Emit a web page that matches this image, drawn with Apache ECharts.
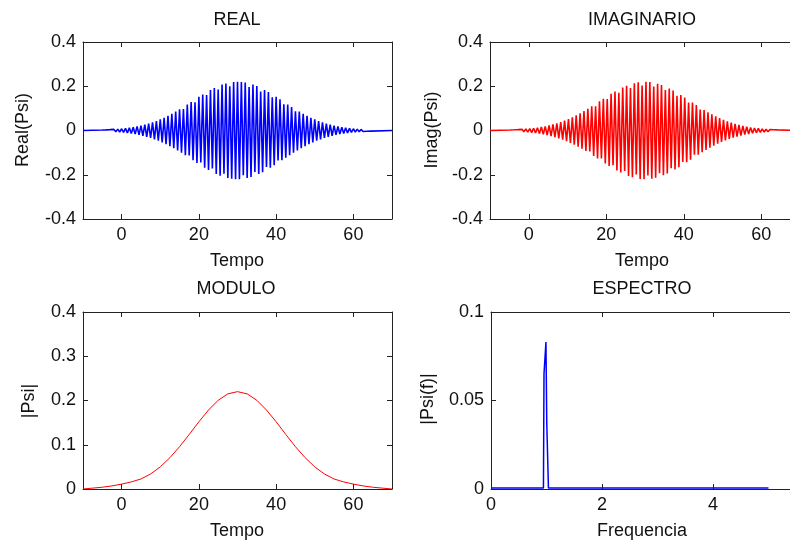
<!DOCTYPE html>
<html><head><meta charset="utf-8">
<script src="https://cdn.jsdelivr.net/npm/echarts@6/dist/echarts.min.js"></script>
<style>html,body{margin:0;padding:0;background:#fff}#c{width:790px;height:545px}</style>
</head><body><div id="c"></div><script>
// ---- data ----
const realStart = -5, imagStart = -4.75, sampleStep = 0.5;
const realVals = [
 0.0023,-0.0027,0.0030,-0.0034,0.0039,-0.0044,0.0050,-0.0056,0.0063,-0.0070,
 0.0079,-0.0088,0.0098,-0.0109,0.0120,-0.0134,0.0148,-0.0163,0.0180,-0.0198,
 0.0217,-0.0238,0.0261,-0.0285,0.0310,-0.0338,0.0367,-0.0398,0.0430,-0.0464,
 0.0500,-0.0538,0.0578,-0.0619,0.0663,-0.0708,0.0754,-0.0802,0.0853,-0.0904,
 0.0956,-0.1009,0.0970,-0.1120,0.1176,-0.1130,0.1291,-0.1348,0.1280,-0.1463,
 0.1519,-0.1450,0.1630,-0.1684,0.1600,-0.1786,0.1835,-0.1720,0.1925,-0.1967,
 0.1850,-0.2041,0.2073,-0.1950,0.2128,-0.2150,0.2000,-0.2182,0.2192,-0.2198,
 0.2200,-0.2198,0.2192,-0.2020,0.2168,-0.2150,0.1960,-0.2102,0.2073,-0.1880,
 0.2005,-0.1967,0.1760,-0.1882,0.1835,-0.1650,0.1735,-0.1684,0.1500,-0.1575,
 0.1519,-0.1350,0.1406,-0.1348,0.1180,-0.1233,0.1176,-0.1120,0.1064,-0.1009,
 0.0870,-0.0904,0.0853,-0.0802,0.0754,-0.0708,0.0663,-0.0619,0.0578,-0.0538,
 0.0500,-0.0464,0.0430,-0.0398,0.0367,-0.0338,0.0310,-0.0285,0.0261,-0.0238,
 0.0217,-0.0198,0.0180,-0.0163,0.0148,-0.0134,0.0120,-0.0109,0.0098,-0.0088,
 0.0079,-0.0070,0.0063,-0.0056,0.0050,-0.0044,0.0039,-0.0034,0.0030,-0.0027,
 0.0023
];
const imagVals = [
 0.0025,-0.0029,0.0032,-0.0037,0.0041,-0.0047,0.0053,-0.0059,0.0066,-0.0074,
 0.0083,-0.0093,0.0103,-0.0114,0.0127,-0.0141,0.0155,-0.0171,0.0189,-0.0207,
 0.0227,-0.0249,0.0273,-0.0297,0.0324,-0.0352,0.0382,-0.0414,0.0447,-0.0482,
 0.0519,-0.0558,0.0598,-0.0641,0.0685,-0.0731,0.0778,-0.0827,0.0878,-0.0930,
 0.0982,-0.0950,0.1092,-0.1148,0.1100,-0.1262,0.1320,-0.1260,0.1434,-0.1491,
 0.1420,-0.1602,0.1657,-0.1570,0.1760,-0.1810,0.1700,-0.1903,0.1946,-0.1830,
 0.2023,-0.2057,0.1920,-0.2115,0.2139,-0.1990,0.2175,-0.2187,0.2030,-0.2199,
 0.2199,-0.2030,0.2187,-0.2175,0.1990,-0.2139,0.2115,-0.1930,0.2057,-0.2023,
 0.1830,-0.1946,0.1903,-0.1710,0.1810,-0.1760,0.1570,-0.1657,0.1602,-0.1420,
 0.1491,-0.1434,0.1260,-0.1320,0.1262,-0.1100,0.1148,-0.1092,0.0950,-0.0982,
 0.0930,-0.0878,0.0827,-0.0778,0.0731,-0.0685,0.0641,-0.0598,0.0558,-0.0519,
 0.0482,-0.0447,0.0414,-0.0382,0.0352,-0.0324,0.0297,-0.0273,0.0249,-0.0227,
 0.0207,-0.0189,0.0171,-0.0155,0.0141,-0.0127,0.0114,-0.0103,0.0093,-0.0083,
 0.0074,-0.0066,0.0059,-0.0053,0.0047,-0.0041,0.0037,-0.0032,0.0029,-0.0025
];
const edgeT = [-10, 70];           // flat (zero) ends of the time signals
const modT = [-10,-5,-2.5,0,2.5,5,7.5,10,12.5,15,17.5,20,22.5,25,27.5,30,32.5,35,37.5,40,42.5,45,47.5,50,52.5,55,57.5,60,62.5,65,70];
const modV = [0,0.004,0.007,0.011,0.016,0.0226,0.034,0.050,0.0708,0.0956,0.1233,0.1519,0.1786,0.2005,0.2150,0.2200,0.2150,0.2005,0.1786,0.1519,0.1233,0.0956,0.0708,0.050,0.034,0.0226,0.016,0.011,0.007,0.004,0];
const specF = [0, 0.945, 0.955, 0.97, 0.99, 1.005, 1.025, 1.035, 5];
const specV = [0.0006, 0.0006, 0.065, 0.065, 0.083, 0.037, 0.037, 0.0006, 0.0006];
const timeTicks = [0, 20, 40, 60];
const freqTicks = [0, 2, 4, 6];

// ---- build ----
const FONT = 'Liberation Sans, Arial, sans-serif';
const INK = '#111';
function samples(start, vals) {
  const out = [[edgeT[0], 0]];
  vals.forEach((v, i) => out.push([start + i * sampleStep, v]));
  out.push([edgeT[1], 0]);
  return out;
}
const pairs = (xs, ys) => xs.map((x, i) => [x, ys[i]]);

const grids = [
  {left: 83, top: 42, width: 309, height: 177},
  {left: 490, top: 42, width: 310, height: 177},
  {left: 83, top: 312, width: 309, height: 177},
  {left: 491, top: 312, width: 333, height: 177}
].map(g => Object.assign(g, {outerBoundsMode: 'none', containLabel: false}));
const xSpec = [
  {min: -10, max: 70, ticks: timeTicks},
  {min: -10, max: 70, ticks: timeTicks},
  {min: -10, max: 70, ticks: timeTicks},
  {min: 0, max: 6, ticks: freqTicks}
];
const ySpec = [
  {min: -0.4, max: 0.4, interval: 0.2},
  {min: -0.4, max: 0.4, interval: 0.2},
  {min: 0, max: 0.4, interval: 0.1},
  {min: 0, max: 0.1, interval: 0.05}
];
const lineAx = {show: true, onZero: false, lineStyle: {color: '#222', width: 1}};
const tickAx = (vals) => ({show: true, inside: true, length: 5, lineStyle: {color: '#222', width: 1}, customValues: vals});
const xAxis = [], yAxis = [];
xSpec.forEach((s, i) => {
  xAxis.push({type: 'value', gridIndex: i, min: s.min, max: s.max, position: 'bottom',
    axisLine: lineAx, axisTick: tickAx(s.ticks), splitLine: {show: false},
    axisLabel: {customValues: s.ticks, margin: 7, color: INK, fontSize: 18, fontFamily: FONT}});
  xAxis.push({type: 'value', gridIndex: i, min: s.min, max: s.max, position: 'top',
    axisLine: lineAx, axisTick: tickAx(s.ticks), splitLine: {show: false}, axisLabel: {show: false}});
});
ySpec.forEach((s, i) => {
  const base = {type: 'value', gridIndex: i, min: s.min, max: s.max, interval: s.interval,
    axisLine: lineAx, splitLine: {show: false},
    axisTick: {show: true, inside: true, length: 5, lineStyle: {color: '#222', width: 1}}};
  yAxis.push(Object.assign({}, base, {position: 'left',
    axisLabel: {margin: 7, color: INK, fontSize: 18, fontFamily: FONT}}));
  yAxis.push(Object.assign({}, base, {position: 'right', axisLabel: {show: false}}));
});
const ln = (i, data, color, w) => ({type: 'line', xAxisIndex: 2 * i, yAxisIndex: 2 * i, data,
  symbol: 'none', showSymbol: false, lineStyle: {color, width: w}, z: 5, animation: false});

const txt = (x, y, t, rot) => ({type: 'text', x, y, rotation: rot ? Math.PI / 2 : 0,
  style: {text: t, fill: INK, font: '18px ' + FONT, align: 'center', verticalAlign: 'middle'}});

const chart = echarts.init(document.getElementById('c'), null, {renderer: 'canvas'});
chart.setOption({
  animation: false,
  backgroundColor: '#fff',
  grid: grids,
  xAxis, yAxis,
  series: [
    ln(0, samples(realStart, realVals), '#0000ff', 1.6),
    ln(1, samples(imagStart, imagVals), '#ff0000', 1.6),
    ln(2, pairs(modT, modV), '#ff0000', 1),
    ln(3, pairs(specF, specV), '#0000ff', 1.5)
  ],
  graphic: [
    txt(237, 20, 'REAL'), txt(642, 20, 'IMAGINARIO'),
    txt(236, 289, 'MODULO'), txt(642, 289, 'ESPECTRO'),
    txt(237, 261, 'Tempo'), txt(642, 261, 'Tempo'),
    txt(237, 531, 'Tempo'), txt(642, 531, 'Frequencia'),
    txt(23, 130, 'Real(Psi)', true), txt(432, 130, 'Imag(Psi)', true),
    txt(29, 401, '|Psi|', true), txt(428, 399, '|Psi(f)|', true)
  ]
});
</script></body></html>
